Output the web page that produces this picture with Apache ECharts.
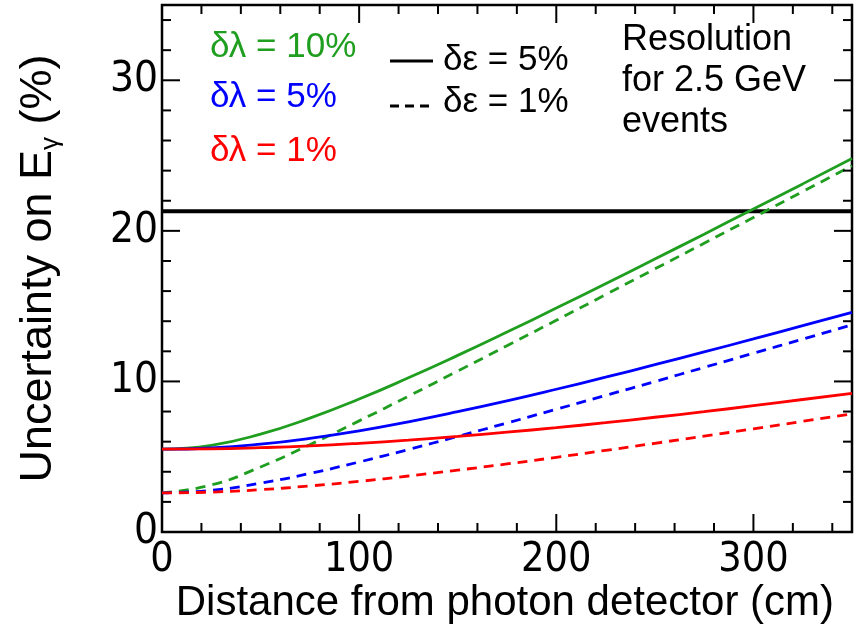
<!DOCTYPE html>
<html>
<head>
<meta charset="UTF-8">
<script src="https://cdn.jsdelivr.net/npm/echarts@6/dist/echarts.min.js"></script>
<style>
  * { margin: 0; padding: 0; }
  body { background: #fff; }
  #main { width: 857px; height: 634px; }
</style>
</head>
<body>
<div id="main"></div>
<script>
    // distance from photon detector (cm)
    var xCm = [0, 25, 50, 75, 100, 125, 150, 175, 200, 225, 250, 275, 300, 325, 350];

    // uncertainty on E_gamma (%)
    var green10Solid = [5.50, 5.76, 6.50, 7.56, 8.83, 10.24, 11.73, 13.28, 14.87, 16.49, 18.13, 19.78, 21.45, 23.12, 24.80];
    var green10Dash  = [2.60, 3.12, 4.32, 5.80, 7.38, 9.02, 10.69, 12.37, 14.06, 15.76, 17.47, 19.18, 20.89, 22.61, 24.32];
    var blue5Solid   = [5.50, 5.58, 5.83, 6.22, 6.72, 7.32, 7.99, 8.71, 9.48, 10.28, 11.11, 11.96, 12.82, 13.70, 14.59];
    var blue5Dash    = [2.60, 2.77, 3.24, 3.89, 4.65, 5.48, 6.35, 7.24, 8.15, 9.07, 9.99, 10.93, 11.87, 12.81, 13.76];
    var red1Solid    = [5.50, 5.52, 5.60, 5.72, 5.89, 6.10, 6.35, 6.63, 6.93, 7.26, 7.62, 7.99, 8.39, 8.80, 9.21];
    var red1Dash     = [2.60, 2.65, 2.81, 3.06, 3.36, 3.72, 4.11, 4.52, 4.96, 5.42, 5.89, 6.37, 6.85, 7.35, 7.85];

    // resolution for 2.5 GeV events (%)
    var resolution = 21.3;

    // frame tick positions (ROOT style, all four sides)
    var xTicksMajor = [0, 100, 200, 300];
    var xTicksMinor = [20, 40, 60, 80, 120, 140, 160, 180, 220, 240, 260, 280, 320, 340];
    var yTicksMajor = [0, 10, 20, 30];
    var yTicksMinor = [2, 4, 6, 8, 12, 14, 16, 18, 22, 24, 26, 28, 32, 34];

    var X_MAX = 350, Y_MAX = 35;
    var GREEN = '#1f9e1f', BLUE = '#0000ff', RED = '#ff0000';
    var FONT = 'Liberation Sans';
    var NARROW = '"Liberation Sans Narrow", "DejaVu Sans Condensed", "Liberation Sans"';
    var MAJOR_LEN = 18, MINOR_LEN = 9;

    function pts(arr) {
        return xCm.map(function (x, i) { return [x, arr[i]]; });
    }

    function curve(name, arr, color, dashed) {
        return {
            name: name,
            type: 'line',
            data: pts(arr),
            smooth: true,
            symbol: 'none',
            silent: true,
            lineStyle: { color: color, width: 2.8, type: dashed ? [10, 7] : 'solid' },
            z: 3
        };
    }

    // [value, 0 = x axis / 1 = y axis, tick length]
    var tickData = [];
    xTicksMajor.forEach(function (v) { tickData.push([v, 0, MAJOR_LEN]); });
    xTicksMinor.forEach(function (v) { tickData.push([v, 0, MINOR_LEN]); });
    yTicksMajor.forEach(function (v) { tickData.push([v, 1, MAJOR_LEN]); });
    yTicksMinor.forEach(function (v) { tickData.push([v, 1, MINOR_LEN]); });

    function renderTick(params, api) {
        var v = api.value(0), isY = api.value(1), len = api.value(2);
        var st = { stroke: '#000', lineWidth: 2 };
        var a, b;
        if (isY) {
            a = api.coord([0, v]);
            b = api.coord([X_MAX, v]);
            return { type: 'group', children: [
                { type: 'line', shape: { x1: a[0], y1: a[1], x2: a[0] + len, y2: a[1] }, style: st },
                { type: 'line', shape: { x1: b[0], y1: b[1], x2: b[0] - len, y2: b[1] }, style: st }
            ] };
        }
        a = api.coord([v, 0]);
        b = api.coord([v, Y_MAX]);
        return { type: 'group', children: [
            { type: 'line', shape: { x1: a[0], y1: a[1], x2: a[0], y2: a[1] - len }, style: st },
            { type: 'line', shape: { x1: b[0], y1: b[1], x2: b[0], y2: b[1] + len }, style: st }
        ] };
    }

    var chartDom = document.getElementById('main');
    var myChart = echarts.init(chartDom);

    var option = {
        animation: false,
        grid: {
            left: 162, right: 5, top: 5, bottom: 102,
            show: true, borderColor: '#000', borderWidth: 2.5, backgroundColor: 'transparent'
        },
        xAxis: {
            type: 'value', min: 0, max: X_MAX, interval: 100,
            axisLine: { show: false, onZero: false },
            axisTick: { show: false },
            splitLine: { show: false },
            axisLabel: {
                show: true, margin: 8, color: '#000', fontFamily: NARROW, fontSize: 41,
                formatter: function (v) { return v === X_MAX ? '' : String(v); }
            },
            name: 'Distance from photon detector (cm)',
            nameLocation: 'end',
            nameGap: 0,
            nameTextStyle: {
                fontFamily: FONT, fontSize: 42, color: '#000',
                align: 'right', verticalAlign: 'top', padding: [50, 18, 0, 0]
            }
        },
        yAxis: {
            type: 'value', min: 0, max: Y_MAX, interval: 10,
            axisLine: { show: false, onZero: false },
            axisTick: { show: false },
            splitLine: { show: false },
            axisLabel: {
                show: true, margin: 4, color: '#000', fontFamily: NARROW, fontSize: 42,
                formatter: function (v) { return v === Y_MAX ? '' : String(v); }
            },
            name: 'Uncertainty on E{sub|γ} (%)',
            nameLocation: 'middle',
            nameGap: 98,
            nameRotate: 90,
            nameTextStyle: {
                fontFamily: FONT, fontSize: 45, color: '#000',
                rich: {
                    sub: { fontFamily: FONT, fontSize: 26, color: '#000', padding: [24, 0, 0, 0] }
                }
            }
        },
        series: [
            {
                name: 'ticks',
                type: 'custom',
                data: tickData,
                encode: { x: 0, y: 1 },
                renderItem: renderTick,
                silent: true,
                clip: false,
                z: 5
            },
            {
                name: 'resolution',
                type: 'line',
                data: [[0, resolution], [X_MAX, resolution]],
                symbol: 'none',
                silent: true,
                lineStyle: { color: '#000', width: 4 },
                z: 2
            },
            curve('g10s', green10Solid, GREEN, false),
            curve('g10d', green10Dash, GREEN, true),
            curve('b5s', blue5Solid, BLUE, false),
            curve('b5d', blue5Dash, BLUE, true),
            curve('r1s', red1Solid, RED, false),
            curve('r1d', red1Dash, RED, true)
        ],
        graphic: [
            { type: 'text', left: 210, top: 30, style: { text: 'δλ = 10%', fill: GREEN, font: '35px "Liberation Sans"' } },
            { type: 'text', left: 210, top: 80, style: { text: 'δλ = 5%', fill: BLUE, font: '35px "Liberation Sans"' } },
            { type: 'text', left: 210, top: 134, style: { text: 'δλ = 1%', fill: RED, font: '35px "Liberation Sans"' } },
            { type: 'line', shape: { x1: 390, y1: 61, x2: 433, y2: 61 }, style: { stroke: '#000', lineWidth: 3 } },
            { type: 'line', shape: { x1: 390, y1: 106, x2: 433, y2: 106 }, style: { stroke: '#000', lineWidth: 3, lineDash: [9, 6] } },
            { type: 'text', left: 443, top: 43, style: { text: 'δε = 5%', fill: '#000', font: '35px "Liberation Sans"' } },
            { type: 'text', left: 443, top: 85, style: { text: 'δε = 1%', fill: '#000', font: '35px "Liberation Sans"' } },
            { type: 'text', left: 622, top: 20, style: { text: 'Resolution\nfor 2.5 GeV\nevents', fill: '#000', font: '36px "Liberation Sans"', lineHeight: 41 } }
        ]
    };

    myChart.setOption(option);
</script>
</body>
</html>
